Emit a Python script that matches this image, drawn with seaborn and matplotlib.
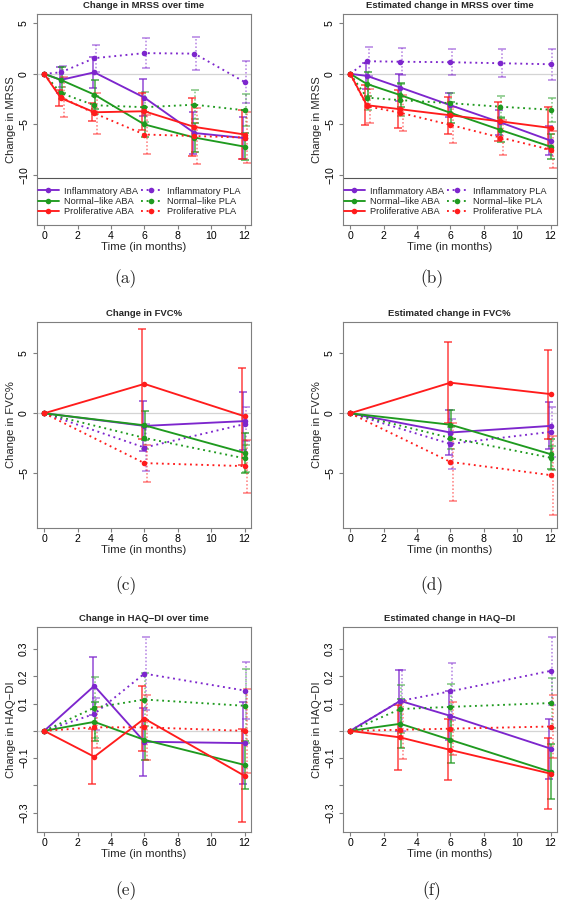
import pandas as pd
import matplotlib
matplotlib.use("Agg")
import matplotlib.pyplot as plt
from matplotlib.lines import Line2D
import seaborn as sns

GROUPS = ["Inflammatory", "Normal−like", "Proliferative"]
ARMS = ["ABA", "PLA"]
COLORS = {"Inflammatory": "#7D26CD", "Normal−like": "#1F9A1F", "Proliferative": "#FF1C1C"}
# small horizontal shift of the error bars so they do not sit on top of each other
JITTER = {"ABA": {"Inflammatory": -0.08, "Normal−like": 0.04, "Proliferative": -0.14},
          "PLA": {"Inflammatory": 0.10, "Normal−like": 0.06, "Proliferative": 0.16}}

# ---- MRSS ----
mrss_times = [0, 1, 3, 6, 9, 12]
mrss_obs_mean = {
    "Inflammatory ABA": [0, -0.6, 0.15, -2.35, -5.85, -6.35],
    "Normal−like ABA": [0, -0.6, -2.05, -5.0, -6.3, -7.2],
    "Proliferative ABA": [0, -2.4, -3.8, -3.7, -5.25, -6.0],
    "Inflammatory PLA": [0, 0.15, 1.55, 2.05, 2.0, -0.8],
    "Normal−like PLA": [0, -1.9, -3.1, -3.3, -3.05, -3.6],
    "Proliferative PLA": [0, -2.3, -3.9, -6.0, -6.15, -6.3],
}
mrss_obs_err = {
    "Inflammatory ABA": [0, 1.3, 1.5, 1.85, 2.1, 2.1],
    "Normal−like ABA": [0, 1.25, 1.45, 1.2, 1.4, 1.35],
    "Proliferative ABA": [0, 0.8, 0.9, 1.85, 2.9, 2.45],
    "Inflammatory PLA": [0, 0.6, 1.35, 1.45, 1.6, 2.05],
    "Normal−like PLA": [0, 0.6, 0.9, 1.5, 1.45, 1.6],
    "Proliferative PLA": [0, 2.0, 2.0, 1.9, 2.8, 2.5],
}
mrss_est_mean = {
    "Inflammatory ABA": [0, -0.2, -1.35, -3.1, -4.8, -6.6],
    "Normal−like ABA": [0, -1.0, -2.1, -3.85, -5.55, -7.2],
    "Proliferative ABA": [0, -3.1, -3.5, -4.1, -4.7, -5.35],
    "Inflammatory PLA": [0, 1.25, 1.2, 1.15, 1.05, 0.95],
    "Normal−like PLA": [0, -2.35, -2.6, -2.9, -3.25, -3.55],
    "Proliferative PLA": [0, -3.2, -3.85, -5.05, -6.3, -7.5],
}
mrss_est_err = {
    "Inflammatory ABA": [0, 1.3, 1.3, 1.2, 1.25, 1.4],
    "Normal−like ABA": [0, 1.15, 1.15, 1.05, 1.2, 1.25],
    "Proliferative ABA": [0, 2.0, 1.9, 1.85, 1.95, 2.05],
    "Inflammatory PLA": [0, 1.45, 1.36, 1.3, 1.37, 1.53],
    "Normal−like PLA": [0, 1.2, 1.55, 1.05, 1.05, 1.2],
    "Proliferative PLA": [0, 1.7, 1.8, 1.75, 1.75, 1.85],
}

# ---- FVC% ----
fvc_times = [0, 6, 12]
fvc_obs_mean = {
    "Inflammatory ABA": [0, -1.05, -0.65],
    "Normal−like ABA": [0, -1.0, -3.3],
    "Proliferative ABA": [0, 2.45, -0.25],
    "Inflammatory PLA": [0, -2.85, -0.9],
    "Normal−like PLA": [0, -2.05, -3.75],
    "Proliferative PLA": [0, -4.15, -4.4],
}
fvc_obs_err = {
    "Inflammatory ABA": [0, 2.05, 2.4],
    "Normal−like ABA": [0, 1.2, 1.7],
    "Proliferative ABA": [0, 4.55, 4.05],
    "Inflammatory PLA": [0, 1.95, 1.4],
    "Normal−like PLA": [0, 0.95, 1.15],
    "Proliferative PLA": [0, 1.55, 2.2],
}
fvc_est_mean = {
    "Inflammatory ABA": [0, -1.6, -1.05],
    "Normal−like ABA": [0, -0.95, -3.4],
    "Proliferative ABA": [0, 2.55, 1.6],
    "Inflammatory PLA": [0, -2.55, -1.55],
    "Normal−like PLA": [0, -2.05, -3.7],
    "Proliferative PLA": [0, -4.05, -5.15],
}
fvc_est_err = {
    "Inflammatory ABA": [0, 1.9, 1.95],
    "Normal−like ABA": [0, 1.2, 1.25],
    "Proliferative ABA": [0, 3.4, 3.7],
    "Inflammatory PLA": [0, 2.05, 2.1],
    "Normal−like PLA": [0, 0.95, 1.0],
    "Proliferative PLA": [0, 3.25, 3.3],
}

# ---- HAQ-DI ----
haq_times = [0, 3, 6, 12]
haq_obs_mean = {
    "Inflammatory ABA": [0, 0.165, -0.04, -0.045],
    "Normal−like ABA": [0, 0.033, -0.033, -0.125],
    "Proliferative ABA": [0, -0.095, 0.045, -0.165],
    "Inflammatory PLA": [0, 0.062, 0.21, 0.148],
    "Normal−like PLA": [0, 0.085, 0.115, 0.092],
    "Proliferative PLA": [0, 0.013, 0.013, 0.0],
}
haq_obs_err = {
    "Inflammatory ABA": [0, 0.106, 0.125, 0.15],
    "Normal−like ABA": [0, 0.072, 0.073, 0.087],
    "Proliferative ABA": [0, 0.1, 0.12, 0.17],
    "Inflammatory PLA": [0, 0.06, 0.135, 0.105],
    "Normal−like PLA": [0, 0.112, 0.097, 0.136],
    "Proliferative PLA": [0, 0.076, 0.12, 0.155],
}
haq_est_mean = {
    "Inflammatory ABA": [0, 0.11, 0.055, -0.065],
    "Normal−like ABA": [0, 0.026, -0.033, -0.15],
    "Proliferative ABA": [0, -0.024, -0.07, -0.157],
    "Inflammatory PLA": [0, 0.11, 0.145, 0.22],
    "Normal−like PLA": [0, 0.08, 0.088, 0.102],
    "Proliferative PLA": [0, 0.004, 0.008, 0.016],
}
haq_est_err = {
    "Inflammatory ABA": [0, 0.112, 0.09, 0.11],
    "Normal−like ABA": [0, 0.09, 0.085, 0.1],
    "Proliferative ABA": [0, 0.118, 0.112, 0.13],
    "Inflammatory PLA": [0, 0.112, 0.105, 0.125],
    "Normal−like PLA": [0, 0.087, 0.084, 0.093],
    "Proliferative PLA": [0, 0.107, 0.098, 0.117],
}


def long_frame(times, means, errs):
    rows = []
    for name, vals in means.items():
        group, arm = name.rsplit(" ", 1)
        for t, v, e in zip(times, vals, errs[name]):
            rows.append({"time": t, "value": v, "err": e, "group": group, "arm": arm})
    return pd.DataFrame(rows)


def draw_panel(ax, df, title, ylabel, ylim, yticks, yticklabels, legend=False):
    ax.axhline(0, color="#d4d4d4", lw=0.9, zorder=0)

    # error bars (solid for ABA, dotted for PLA)
    for (group, arm), sub in df.groupby(["group", "arm"]):
        sub = sub[sub["time"] > 0]
        eb = ax.errorbar(sub["time"] + JITTER[arm][group], sub["value"], yerr=sub["err"],
                         fmt="none", ecolor=COLORS[group], elinewidth=1.15, capsize=2.8,
                         capthick=1.15, alpha=0.8 if arm == "ABA" else 0.55, zorder=1)
        if arm == "PLA":
            eb[2][0].set_linestyle((0, (1, 1.3)))

    sns.lineplot(data=df, x="time", y="value", hue="group", style="arm",
                 hue_order=GROUPS, style_order=ARMS, palette=COLORS,
                 dashes={"ABA": "", "PLA": (1, 2)}, markers={"ABA": "o", "PLA": "o"},
                 markersize=4.0, markeredgewidth=0, linewidth=1.35,
                 errorbar=None, legend=False, ax=ax, zorder=3)

    ax.set_xlim(-0.45, 12.37)
    ax.set_ylim(*ylim)
    ax.set_xticks(range(0, 13, 2))
    ax.set_yticks(yticks)
    ax.set_yticklabels(yticklabels)
    plt.setp(ax.get_yticklabels(), rotation=90, va="center")
    ax.tick_params(axis="both", colors="#7f7f7f", labelcolor="black", length=3, width=0.8,
                   labelsize=7.6)
    ax.tick_params(axis="x", pad=1.2)
    ax.tick_params(axis="y", pad=2.5)
    for sp in ax.spines.values():
        sp.set_color("#7f7f7f")
        sp.set_linewidth(0.8)

    ax.set_title(title, fontsize=6.8, fontweight="bold", pad=4)
    ax.set_xlabel("Time (in months)", fontsize=8.2, labelpad=0.8)
    ax.set_ylabel(ylabel, fontsize=8.1, labelpad=2.5)

    if legend:
        h = 0.224
        ax.plot([0, 1], [h, h], transform=ax.transAxes, color="#555555", lw=0.8)
        handles = []
        for arm in ARMS:
            for group in GROUPS:
                handles.append(Line2D([], [], color=COLORS[group], lw=1.35,
                                      ls="-" if arm == "ABA" else (0, (1, 2)),
                                      marker="o", markersize=4.0, markeredgewidth=0,
                                      label=f"{group} {arm}"))
        ax.legend(handles=handles, ncol=2, loc="center left", bbox_to_anchor=(0.006, h / 2),
                  frameon=False, fontsize=6.7, handlelength=2.25, handletextpad=0.55,
                  columnspacing=0.3, labelspacing=0.14, borderpad=0, borderaxespad=0)


def main():
    sns.set_style("ticks")
    plt.rcParams["font.family"] = ["Liberation Sans", "DejaVu Sans"]
    plt.rcParams["axes.unicode_minus"] = True

    W, H = 561, 900
    fig = plt.figure(figsize=(W / 100, H / 100), dpi=100)

    col_left = [36.7, 342.7]
    width = 214
    row_top = [14, 321.7, 627]
    row_bottom = [225, 528.3, 832]

    haq_ticks = [-0.3, -0.2, -0.1, 0, 0.1, 0.2, 0.3]
    haq_labels = ["−0.3", "", "−0.1", "", "0.1", "0.2", "0.3"]

    panels = [
        (long_frame(mrss_times, mrss_obs_mean, mrss_obs_err), "Change in MRSS over time",
         "Change in MRSS", (-14.95, 5.92), [-10, -5, 0, 5], ["−10", "−5", "0", "5"], True),
        (long_frame(mrss_times, mrss_est_mean, mrss_est_err), "Estimated change in MRSS over time",
         "Change in MRSS", (-14.95, 5.92), [-10, -5, 0, 5], ["−10", "−5", "0", "5"], True),
        (long_frame(fvc_times, fvc_obs_mean, fvc_obs_err), "Change in FVC%",
         "Change in FVC%", (-9.58, 7.63), [-5, 0, 5], ["−5", "0", "5"], False),
        (long_frame(fvc_times, fvc_est_mean, fvc_est_err), "Estimated change in FVC%",
         "Change in FVC%", (-9.58, 7.63), [-5, 0, 5], ["−5", "0", "5"], False),
        (long_frame(haq_times, haq_obs_mean, haq_obs_err), "Change in HAQ−DI over time",
         "Change in HAQ−DI", (-0.371, 0.381), haq_ticks, haq_labels, False),
        (long_frame(haq_times, haq_est_mean, haq_est_err), "Estimated change in HAQ−DI",
         "Change in HAQ−DI", (-0.371, 0.381), haq_ticks, haq_labels, False),
    ]
    captions = ["(a)", "(b)", "(c)", "(d)", "(e)", "(f)"]
    caption_y = [279, 586, 891]
    caption_x = [126, 432]

    for i, (df, title, ylabel, ylim, yt, ytl, leg) in enumerate(panels):
        r, c = divmod(i, 2)
        ax = fig.add_axes([col_left[c] / W, 1 - row_bottom[r] / H, width / W,
                           (row_bottom[r] - row_top[r]) / H])
        draw_panel(ax, df, title, ylabel, ylim, yt, ytl, legend=leg)
        fig.text(caption_x[c] / W, 1 - caption_y[r] / H, captions[i], family="cmr10",
                 fontsize=12.5, ha="center", va="center")

    fig.savefig("out.png", dpi=100)


if __name__ == "__main__":
    main()
